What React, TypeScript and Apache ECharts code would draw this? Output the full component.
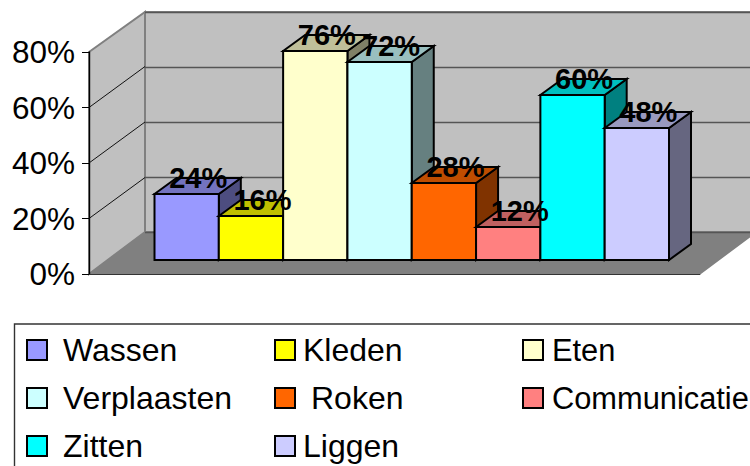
import React, { useEffect, useRef } from "react";
import * as echarts from "echarts";

const categories = ["Wassen", "Kleden", "Eten", "Verplaasten", "Roken", "Communicatie", "Zitten", "Liggen"];
const values = [24, 16, 76, 72, 28, 12, 60, 48];
const frontColors = ["#9999FF", "#FFFF00", "#FFFFCC", "#CCFFFF", "#FF6600", "#FF8080", "#00FFFF", "#CCCCFF"];
const topColors = ["#7373BF", "#BFBF00", "#BFBF99", "#99BFBF", "#BF4D00", "#BF6060", "#00BFBF", "#9999BF"];
const sideColors = ["#4D4D80", "#808000", "#808066", "#668080", "#803300", "#804040", "#008080", "#666680"];
const sideGridTicks = [20, 40, 60];
const legendColumns = [
  { left: 26, names: ["Wassen", "Verplaasten", "Zitten"], pad: [11, 11, 11], size: 32 },
  { left: 274, names: ["Kleden", "Roken", "Liggen"], pad: [3, 11, 3], size: 32 },
  { left: 522, names: ["Eten", "Communicatie"], pad: [4, 4], size: 30.8 },
];

const FONT = "'Liberation Sans', Arial, sans-serif";
const DEPTH_X = 22;
const DEPTH_Y = 16;

function barSeries(i: number) {
  return {
    type: "custom",
    name: categories[i],
    xAxisIndex: 1,
    yAxisIndex: 1,
    z: 5,
    itemStyle: { color: frontColors[i] },
    data: [[i, values[i]]],
    renderItem: (_p: any, api: any) => {
      const w = api.size([1, 0])[0];
      const top = api.coord([api.value(0), api.value(1)]);
      const base = api.coord([api.value(0), 0]);
      const x0 = top[0] - w / 2;
      const x1 = top[0] + w / 2;
      const y0 = top[1];
      const y1 = base[1];
      const line = { stroke: "#000", lineWidth: 2, lineJoin: "miter" };
      return {
        type: "group",
        children: [
          {
            type: "polygon",
            shape: { points: [[x1, y0], [x1 + DEPTH_X, y0 - DEPTH_Y], [x1 + DEPTH_X, y1 - DEPTH_Y], [x1, y1]] },
            style: { fill: sideColors[i], ...line },
          },
          {
            type: "polygon",
            shape: { points: [[x0, y0], [x0 + DEPTH_X, y0 - DEPTH_Y], [x1 + DEPTH_X, y0 - DEPTH_Y], [x1, y0]] },
            style: { fill: topColors[i], ...line },
          },
          {
            type: "rect",
            shape: { x: x0, y: y0, width: w, height: y1 - y0 },
            style: { fill: frontColors[i], ...line },
          },
        ],
      };
    },
  };
}

export default function App() {
  const ref = useRef<HTMLDivElement>(null);
  useEffect(() => {
    const chart = echarts.init(ref.current!, undefined, { renderer: "svg" });
    const hiddenAxis = { show: false };
    chart.setOption({
      animation: false,
      backgroundColor: "#fff",
      textStyle: { fontFamily: FONT },
      grid: [
        { left: 89, top: 52, width: 611, height: 222 },
        { left: 154.5, top: 40, width: 514.5, height: 220 },
        { left: 145, top: 12, width: 605, height: 220 },
      ],
      xAxis: [
        {
          gridIndex: 0, type: "value", min: 0, max: 1,
          axisLine: { show: true, lineStyle: { color: "#333", width: 1 } },
          axisTick: { show: false }, axisLabel: { show: false }, splitLine: { show: false },
        },
        { gridIndex: 1, type: "category", data: categories, ...hiddenAxis },
        { gridIndex: 2, type: "value", min: 0, max: 1, ...hiddenAxis },
      ],
      yAxis: [
        {
          gridIndex: 0, type: "value", min: 0, max: 80, interval: 20,
          axisLine: { show: true, lineStyle: { color: "#000", width: 1.4 } },
          axisTick: { show: true, length: 7, lineStyle: { color: "#000", width: 1 } },
          axisLabel: { formatter: "{value}%", fontSize: 31.5, color: "#000", margin: 14, fontFamily: FONT },
          splitLine: { show: false },
        },
        { gridIndex: 1, type: "value", min: 0, max: 80, interval: 20, ...hiddenAxis },
        {
          gridIndex: 2, type: "value", min: 0, max: 80, interval: 20,
          axisLine: { show: false }, axisTick: { show: false }, axisLabel: { show: false },
          splitLine: { show: true, lineStyle: { color: "#555", width: 1.4 } },
        },
      ],
      graphic: {
        elements: [
          { type: "rect", z: -5, shape: { x: 145, y: 12, width: 620, height: 220 }, style: { fill: "#C0C0C0", stroke: "#808080", lineWidth: 2 } },
          { type: "polygon", z: -4, shape: { points: [[89, 52], [145, 12], [145, 232], [89, 274]] }, style: { fill: "#C0C0C0", stroke: "#808080", lineWidth: 2 } },
          { type: "polygon", z: -3, shape: { points: [[89, 274], [145, 232], [760, 232], [760, 230], [701, 274]] }, style: { fill: "#808080" } },
          { type: "rect", z: -2, shape: { x: 14.5, y: 324, width: 800, height: 200 }, style: { fill: "#fff", stroke: "#333", lineWidth: 1.4 } },
        ],
      },
      legend: legendColumns.map((c) => ({
        left: c.left,
        top: 332,
        padding: 0,
        orient: "vertical",
        itemWidth: 20,
        itemHeight: 20,
        itemGap: 12,
        selectedMode: false,
        icon: "rect",
        z: 4,
        textStyle: { fontSize: c.size, color: "#000", lineHeight: 36, fontFamily: FONT },
        data: c.names.map((n, j) => ({
          name: n,
          icon: "rect",
          itemStyle: { color: frontColors[categories.indexOf(n)], borderColor: "#000", borderWidth: 2 },
          textStyle: { padding: [0, 0, 0, c.pad[j]] },
        })),
      })),
      series: [
        {
          type: "custom",
          name: "wall-lines",
          xAxisIndex: 0,
          yAxisIndex: 0,
          z: 1,
          data: sideGridTicks.map((t) => [0, t]),
          renderItem: (_p: any, api: any) => {
            const f = api.coord([api.value(0), api.value(1)]);
            return {
              type: "line",
              shape: { x1: f[0], y1: f[1], x2: f[0] + 56, y2: f[1] - 41 },
              style: { stroke: "#111", lineWidth: 1 },
            };
          },
        },
        ...categories.map((_c, i) => barSeries(i)),
        {
          type: "custom",
          name: "labels",
          xAxisIndex: 1,
          yAxisIndex: 1,
          z: 10,
          data: values.map((v, i) => [i, v]),
          renderItem: (_p: any, api: any) => {
            const p = api.coord([api.value(0), api.value(1)]);
            return {
              type: "text",
              x: p[0] + 11.5,
              y: p[1] - 16.5,
              style: {
                text: api.value(1) + "%",
                fontSize: 29,
                fontWeight: "bold",
                fontFamily: FONT,
                fill: "#000",
                align: "center",
                verticalAlign: "middle",
              },
            };
          },
        },
      ],
    });
    return () => chart.dispose();
  }, []);
  return <div ref={ref} style={{ position: "fixed", left: 0, top: 0, width: 750, height: 466, overflow: "hidden" }} />;
}
